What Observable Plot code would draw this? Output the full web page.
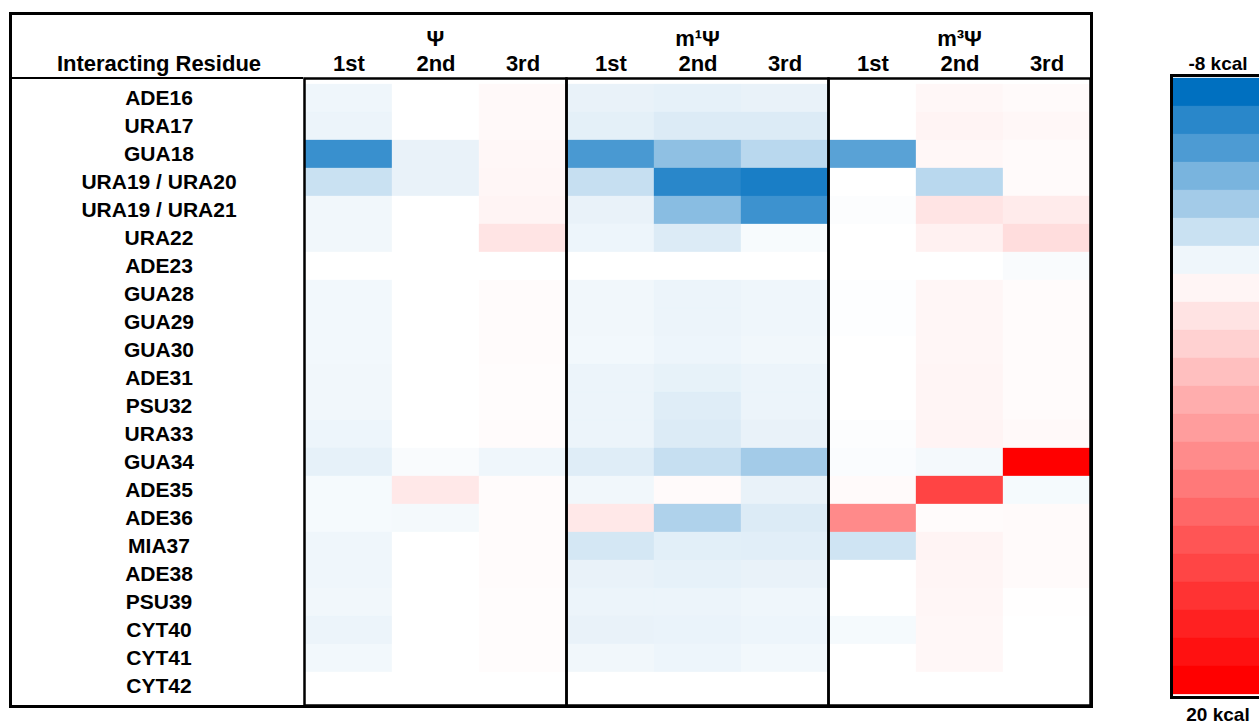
<!DOCTYPE html>
<html>
<head>
<meta charset="utf-8">
<script src="https://cdn.jsdelivr.net/npm/d3@7"></script>
<script src="https://cdn.jsdelivr.net/npm/@observablehq/plot@0.6"></script>
<style>
  html, body { margin: 0; padding: 0; background: #fff; overflow: hidden; width: 1259px; height: 725px; }
  #box { position: absolute; left: 9px; top: 12px; width: 1078px; height: 690px; border: 3px solid #000; }
  #headline { position: absolute; left: 12px; top: 76.75px; width: 291px; border-top: 2.5px solid #000; }
  #legend { position: absolute; left: 1130px; top: 40px; width: 170px; }
  svg { max-width: none !important; }
  svg text { font-weight: bold; }
</style>
</head>
<body>
<div id="box"></div>
<div id="headline"></div>
<div id="legend"></div>
<script>
// ---- data ----
const residues = ["ADE16","URA17","GUA18","URA19 / URA20","URA19 / URA21","URA22","ADE23","GUA28","GUA29","GUA30","ADE31","PSU32","URA33","GUA34","ADE35","ADE36","MIA37","ADE38","PSU39","CYT40","CYT41","CYT42"];
const groups = ["Ψ", "m¹Ψ", "m³Ψ"];
const orders = ["1st", "2nd", "3rd"];

// interaction energies (kcal), one array per column, rows in residue order
const psi_1st  = [-0.5,-0.6,-6.2,-1.7,-0.45,-0.45,0,-0.4,-0.4,-0.4,-0.45,-0.45,-0.55,-0.8,-0.3,-0.3,-0.5,-0.5,-0.45,-0.6,-0.4,0];
const psi_2nd  = [0,0,-0.7,-0.7,0,0,0,0,0,0,0,0,0,-0.2,1.8,-0.35,0,0,0,0,0,0];
const psi_3rd  = [0.5,0.5,0.6,0.7,0.9,2.1,0,0.3,0.3,0.3,0.25,0.2,0.3,-0.5,0.3,0.3,0.3,0.3,0.25,0.25,0.2,0];
const m1psi_1st = [-0.7,-0.85,-5.7,-1.8,-0.7,-0.55,0,-0.45,-0.45,-0.4,-0.6,-0.6,-0.6,-1.0,-0.45,1.8,-1.35,-0.7,-0.6,-0.7,-0.45,0];
const m1psi_2nd = [-0.8,-1.1,-3.5,-6.7,-3.7,-1.1,0,-0.6,-0.6,-0.55,-0.75,-1.0,-1.1,-1.8,0.4,-2.5,-0.9,-0.8,-0.6,-0.65,-0.55,0];
const m1psi_3rd = [-0.7,-1.1,-2.2,-7.2,-6.1,-0.25,0,-0.5,-0.5,-0.45,-0.6,-0.6,-0.7,-2.9,-0.7,-1.1,-0.95,-0.7,-0.5,-0.55,-0.4,0];
const m3psi_1st = [0,0,-5.2,0,-0.1,0,0,-0.05,-0.05,0,0,0,-0.1,-0.15,0.4,9.2,-1.5,0,0,-0.3,0,0];
const m3psi_2nd = [0.6,0.9,0.6,-2.2,2.1,1.1,0,0.7,0.7,0.7,0.8,0.8,0.9,-0.35,14.7,0.3,0.9,0.8,0.7,0.6,0.6,0];
const m3psi_3rd = [0.4,0.6,0.4,0.4,1.6,2.7,-0.2,0.3,0.3,0.3,0.3,0.3,0.5,20,-0.3,0.4,0.4,0.4,0.1,0,0,0];

// legend colour steps (kcal), top to bottom
const legendSteps = [-8,-6.7,-5.6,-4.2,-2.9,-1.7,-0.5,0.8,2.2,3.6,5,6.4,7.7,9.1,10.5,11.9,13.3,14.6,16,17.4,18.7,20];
const rowHeaderLabel = "Interacting Residue";

// ---- build table ----
const columns = [
  [psi_1st, psi_2nd, psi_3rd],
  [m1psi_1st, m1psi_2nd, m1psi_3rd],
  [m3psi_1st, m3psi_2nd, m3psi_3rd]
];
const data = [];
groups.forEach((g, gi) => orders.forEach((o, oi) => residues.forEach((r, ri) => {
  data.push({group: g, order: o, residue: r, value: columns[gi][oi][ri]});
})));

const colorScale = {
  type: "linear",
  domain: [-8, 0, 20],
  range: ["#0070c0", "#ffffff", "#ff0000"],
  interpolate: "rgb",
  clamp: true
};
const font = "'Liberation Sans', Arial, Helvetica, sans-serif";

const chart = Plot.plot({
  width: 1078,
  height: 690,
  marginLeft: 291,
  marginTop: 63,
  marginRight: 0,
  marginBottom: 0,
  style: {fontFamily: font, color: "#000", background: "transparent", overflow: "visible"},
  fx: {domain: groups, padding: 0, label: null},
  x: {domain: orders, padding: 0, label: null},
  y: {domain: residues, padding: 0, label: null},
  color: colorScale,
  marks: [
    Plot.cell(data, {fx: "group", x: "order", y: "residue", fill: "value", stroke: "value", strokeWidth: 0.3}),
    Plot.frame({stroke: "#000", strokeWidth: 2.5}),
    Plot.axisY({tickSize: 0, tickPadding: 0, textAnchor: "middle", dx: -145.5, fontSize: 21, fontWeight: "bold", label: null}),
    Plot.axisX({anchor: "top", tickSize: 0, tickPadding: 8, fontSize: 22, fontWeight: "bold", label: null}),
    Plot.axisFx({anchor: "top", tickSize: 0, tickPadding: 33, fontSize: 22, fontWeight: "bold", label: null}),
    Plot.text([{group: groups[0], text: rowHeaderLabel}], {fx: "group", text: "text", frameAnchor: "top-left", textAnchor: "middle", lineAnchor: "middle", dx: -145.5, dy: -15, fontSize: 22, fontWeight: "bold"})
  ]
});
chart.style.position = "absolute";
chart.style.left = "12px";
chart.style.top = "15px";
document.body.appendChild(chart);

const legend = Plot.plot({
  width: 170,
  height: 685,
  marginLeft: 41,
  marginRight: 0,
  marginTop: 35,
  marginBottom: 28,
  style: {fontFamily: font, color: "#000", background: "transparent", overflow: "visible"},
  y: {domain: legendSteps, padding: 0, axis: null},
  color: colorScale,
  marks: [
    Plot.cell(legendSteps, {y: d => d, fill: d => d, stroke: d => d, strokeWidth: 0.3}),
    Plot.frame({stroke: "#000", strokeWidth: 3}),
    Plot.text([legendSteps[0]], {frameAnchor: "top", lineAnchor: "middle", dx: -18, dy: -12, text: d => `${d} kcal`, fontSize: 19, fontWeight: "bold"}),
    Plot.text([legendSteps[legendSteps.length - 1]], {frameAnchor: "bottom", lineAnchor: "middle", dx: -18, dy: 17, text: d => `${d} kcal`, fontSize: 19, fontWeight: "bold"})
  ]
});
document.getElementById("legend").appendChild(legend);
</script>
</body>
</html>
